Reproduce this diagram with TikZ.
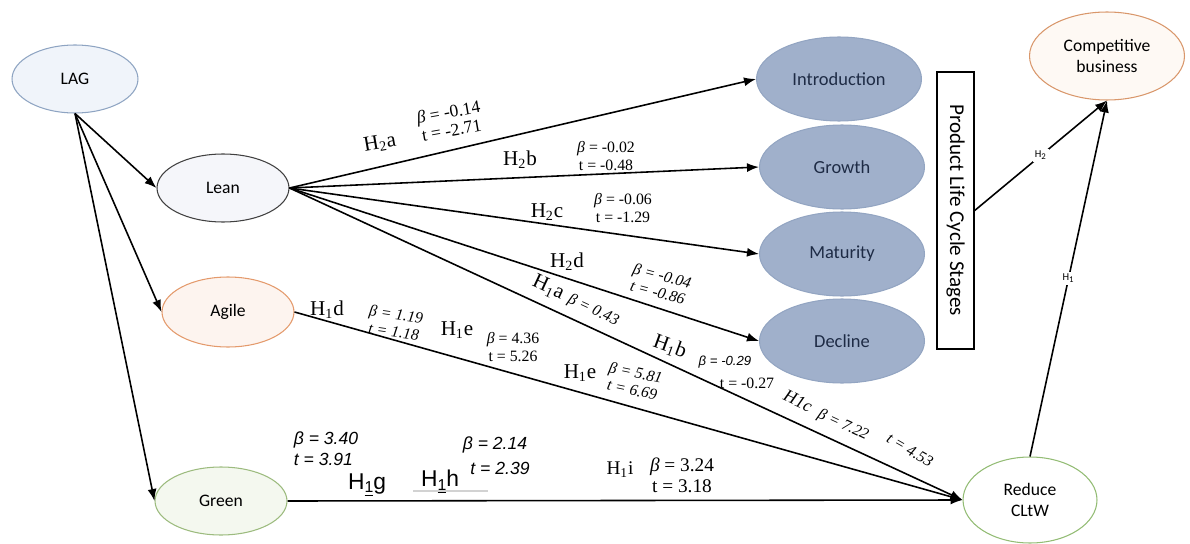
\documentclass[tikz,border=0pt]{standalone}
\usepackage{fontspec}
\setmainfont{Liberation Serif}
\newfontfamily\calib{Carlito}
\newfontfamily\arial{Liberation Sans}
\usetikzlibrary{arrows.meta, shapes.geometric}

\definecolor{lagline}{HTML}{8EA4C2}
\definecolor{lagfill}{HTML}{F0F4FA}
\definecolor{leanline}{HTML}{404040}
\definecolor{leanfill}{HTML}{F5F6FA}
\definecolor{agileline}{HTML}{E49A6C}
\definecolor{agilefill}{HTML}{FDF4EF}
\definecolor{greenline}{HTML}{9CBB7E}
\definecolor{greenfill}{HTML}{F4F8EF}
\definecolor{stagefill}{HTML}{A0B0CB}
\definecolor{stageline}{HTML}{93A5C2}
\definecolor{stagetext}{HTML}{1E2B45}
\definecolor{reduceline}{HTML}{93BC74}
\definecolor{compline}{HTML}{D9976B}
\definecolor{compfill}{HTML}{FEF9F4}

\newcommand{\bt}{\textit{β}}
\newcommand{\subone}{\raisebox{-0.3ex}{\fontsize{9}{9}\selectfont\underline{1}}}

\tikzset{
  var/.style={ellipse, draw, line width=0.6pt, inner sep=0pt,
              minimum width=2.64cm, minimum height=1.36cm,
              align=center, font=\calib\fontsize{10}{11.5}\selectfont},
  stage/.style={var, draw=stageline, fill=stagefill, text=stagetext,
                minimum width=3.3cm, minimum height=1.68cm,
                font=\calib\fontsize{10.5}{12}\selectfont},
  arr/.style={-{Latex[length=2.4mm,width=1.8mm]}, line width=0.9pt},
  hyp/.style={inner sep=0pt, font=\fontsize{12}{13}\selectfont},
  coef/.style={inner sep=0pt, align=center, font=\fontsize{9}{10}\selectfont},
  coefi/.style={coef, font=\itshape\fontsize{9}{10}\selectfont},
  sanshyp/.style={inner sep=0pt, font=\arial\fontsize{13}{14}\selectfont},
  sanscoef/.style={inner sep=0pt, align=left, font=\arial\itshape\fontsize{10}{12}\selectfont},
  tag/.style={fill=white, inner sep=1pt, font=\calib\fontsize{6}{7}\selectfont},
}

\begin{document}
\begin{tikzpicture}[x=0.02cm, y=-0.02cm]
  \useasboundingbox (0,0) rectangle (1190,544);

  % constructs
  \node[var, draw=lagline, fill=lagfill, minimum width=2.52cm] (lag) at (75,79) {LAG};
  \node[var, draw=leanline, fill=leanfill] (lean) at (223,188) {Lean};
  \node[var, draw=agileline, fill=agilefill, minimum height=1.4cm] (agile) at (228,312) {Agile};
  \node[var, draw=greenline, fill=greenfill] (green) at (221,501) {Green};

  \node[stage] (intro) at (839,79) {Introduction};
  \node[stage] (growth) at (842,167) {Growth};
  \node[stage] (maturity) at (842,254) {Maturity};
  \node[stage] (decline) at (842,341) {Decline};
  \node[draw, line width=0.8pt, rotate=-90, inner sep=0pt,
        minimum width=5.54cm, minimum height=0.74cm,
        font=\calib\fontsize{12}{13}\selectfont] (plcs) at (955.5,210.5) {Product Life Cycle Stages};

  \node[var, draw=reduceline, fill=white, minimum width=2.68cm, minimum height=1.72cm] (reduce) at (1030,500) {Reduce\\CLtW};
  \node[var, draw=compline, fill=compfill, minimum width=3.1cm, minimum height=1.76cm] (comp) at (1107,56) {Competitive\\business};

  % paths
  \draw[arr] (lag.south) -- (lean.west);
  \draw[arr] (lag.south) -- (agile.west);
  \draw[arr] (lag.south) -- (green.west);
  \foreach \s in {intro, growth, maturity, decline}
    \draw[arr] (lean.east) -- (\s.west);
  \draw[arr] (lean.east) -- (reduce.west);
  \draw[arr] (agile.east) -- (reduce.west);
  \draw[arr] (green.east) -- (reduce.west);
  \draw[arr] (reduce.north) -- node[tag] {H\textsubscript{1}} (comp.south);
  \draw[arr] (plcs.north) -- node[tag] {H\textsubscript{2}} (comp.south);

  % hypotheses and coefficients
  \node[hyp, rotate=10] (h2a) at (380,143) {H\textsubscript{2}a};
  \node[coef, rotate=10, font=\fontsize{10}{10.5}\selectfont] (c2a) at (450,121) {\bt\ = -0.14\\t = -2.71};
  \node[hyp] (h2b) at (520,160) {H\textsubscript{2}b};
  \node[coef] (c2b) at (606,156) {\bt\ = -0.02\\t = -0.48};
  \node[hyp] (h2c) at (547,212) {H\textsubscript{2}c};
  \node[coef] (c2c) at (623,208) {\bt\ = -0.06\\t = -1.29};
  \node[hyp] (h2d) at (567,262) {H\textsubscript{2}d};
  \node[coefi, rotate=-15] (c2d) at (660,284) {\bt\ = -0.04\\t = -0.86};

  \node[hyp, rotate=-25] (h1a) at (576,301) {H\textsubscript{1}a\hspace{4pt}{\itshape\fontsize{9}{10}\selectfont β = 0.43}};
  \node[hyp, rotate=-20] (h1b) at (670,347) {H\textsubscript{1}b};
  \node[coef, font=\arial\itshape\fontsize{7.5}{9}\selectfont] (c1b) at (725,362) {β = -0.29};
  \node[coef] (t1b) at (747,383) {t = -0.27};
  \node[hyp, rotate=-25, font=\itshape\fontsize{10}{11}\selectfont] (h1c) at (798,401) {H1c};
  \node[coefi, rotate=-25] (c1c) at (843,425) {\bt\ = 7.22};
  \node[coefi, rotate=-30] (t1c) at (910,450) {t = 4.53};

  \node[hyp] (h1d) at (327,310) {H\textsubscript{1}d};
  \node[coefi, rotate=-8] (c1d) at (395,323) {\bt\ = 1.19\\t = 1.18};
  \node[hyp] (h1e) at (457,330) {H\textsubscript{1}e};
  \node[coef] (c1e) at (513,347) {\bt\ = 4.36\\t = 5.26};
  \node[hyp] (h1e2) at (580,373) {H\textsubscript{1}e};
  \node[coefi, rotate=-12] (c1e2) at (634,381) {\bt\ = 5.81\\t = 6.69};

  \node[sanscoef] (c1g) at (326,449) {β = 3.40\\t = 3.91};
  \node[sanshyp] (h1g) at (367,485) {H\subone g};
  \node[sanshyp] (h1h) at (440,482) {H\subone h};
  \node[sanscoef] (c1h) at (495,445) {β = 2.14};
  \node[sanscoef] (t1h) at (500,468) {t = 2.39};
  \draw[gray!35, line width=0.6pt] (413,491) -- (488,491);
  \node[hyp, font=\fontsize{11}{12}\selectfont] (h1i) at (620,470) {H\textsubscript{1}i};
  \node[coef, font=\fontsize{11}{12}\selectfont] (c1i) at (682,475) {\bt\ = 3.24\\t = 3.18};
\end{tikzpicture}
\end{document}
